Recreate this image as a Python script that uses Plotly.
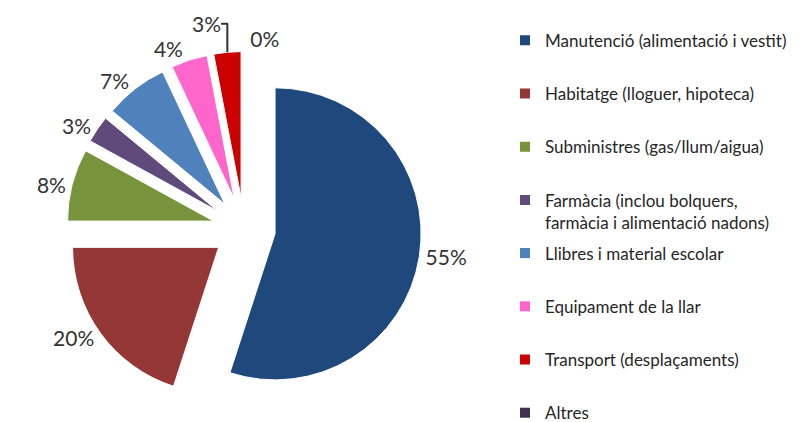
import plotly.graph_objects as go

# dades del grafic
categories = [
    "Manutenció (alimentació i vestit)",
    "Habitatge (lloguer, hipoteca)",
    "Subministres (gas/llum/aigua)",
    "Farmàcia (inclou bolquers,<br>farmàcia i alimentació nadons)",
    "Llibres i material escolar",
    "Equipament de la llar",
    "Transport (desplaçaments)",
    "Altres",
]
valors = [55, 20, 8, 3, 7, 4, 3, 0]
colors = ["#1F497D", "#953735", "#77933C", "#604A7B",
          "#4F81BD", "#FF66CC", "#CC0000", "#403152"]

FONT = "Lato"

fig = go.Figure()
fig.add_trace(go.Pie(
    labels=categories, values=valors,
    sort=False, direction="clockwise", rotation=0,
    pull=0.215,
    marker=dict(colors=colors, line=dict(color="white", width=1)),
    textinfo="percent", texttemplate="%{percent:.0%}",
    textposition="outside",
    textfont=dict(family=FONT, size=21, color="#333333"),
    domain=dict(x=[0.073, 0.5156], y=[0.056, 0.897]),
    showlegend=False,
    hoverinfo="label+percent",
))

# llegenda: cada entrada ocupa dues linies (menys l'ultima) perque l'espai sigui igual
for i, (nom, col) in enumerate(zip(categories, colors)):
    text = nom
    if "<br>" not in nom and i < len(categories) - 1:
        text = nom + "<br>\u00a0"
    fig.add_trace(go.Scatter(
        x=[None], y=[None], mode="markers", name=text,
        legendgroup=nom,
        marker=dict(symbol="square", size=10, color=col),
    ))

fig.update_layout(
    width=802, height=422,
    margin=dict(l=0, r=0, t=0, b=0, autoexpand=False),
    paper_bgcolor="white", plot_bgcolor="white",
    xaxis=dict(visible=False), yaxis=dict(visible=False),
    showlegend=True,
    legend=dict(
        x=0.6197, y=0.965, xanchor="left", yanchor="top",
        valign="top", tracegroupgap=6,
        font=dict(family=FONT, size=17, color="#262626"),
    ),
)

fig.write_html("out.html")
